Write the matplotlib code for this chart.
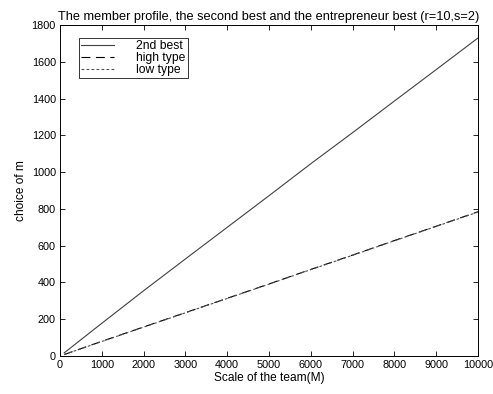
import numpy as np
import matplotlib
matplotlib.use('Agg')
import matplotlib.pyplot as plt

plt.rcParams['font.family'] = ['Liberation Sans', 'DejaVu Sans']

# team scale M and the chosen m for each profile
scale = [100, 1000, 2000, 3000, 4000, 5000, 6000, 7000, 8000, 9000, 10000]
second_best = [17, 178, 355, 528, 700, 872, 1046, 1215, 1387, 1558, 1730]
high_type = [8, 80, 158, 236, 314, 392, 471, 549, 628, 706, 785]
low_type = [8, 79, 157, 235, 313, 391, 470, 548, 627, 705, 783]

fig = plt.figure(figsize=(4.93, 3.94), dpi=100)
fig.patch.set_facecolor('white')
ax = fig.add_axes([0.1217, 0.0964, 0.848, 0.840])

ax.plot(scale, second_best, color='#404040', lw=0.8, ls='-', label='2nd best')
ax.plot(scale, high_type, color='black', lw=0.8, ls=(0, (8, 5)), label='high type')
ax.plot(scale, low_type, color='#505050', lw=0.8, ls=(0, (2.5, 2)), label='low type')

ax.set_xlim(0, 10000)
ax.set_ylim(0, 1800)
ax.set_xticks(np.arange(0, 10001, 1000))
ax.set_yticks(np.arange(0, 1801, 200))
ax.tick_params(direction='in', top=True, right=True, length=3.5, width=0.6, labelsize=7.8, pad=3)
for s in ax.spines.values():
    s.set_linewidth(0.7)

ax.set_xlabel('Scale of the team(M)', fontsize=8.6, labelpad=1)
ax.set_ylabel('choice of m', fontsize=8.6, labelpad=3)
ax.set_title('The member profile, the second best and the entrepreneur best (r=10,s=2)',
             fontsize=9.2, pad=4)

leg = ax.legend(loc='upper left', bbox_to_anchor=(0.045, 0.962), fontsize=8.7, frameon=True,
                fancybox=False, edgecolor='black', handlelength=2.75, borderpad=0.2,
                labelspacing=0.0, handletextpad=1.8, borderaxespad=0)
leg.get_frame().set_linewidth(0.7)

fig.savefig('out.png', dpi=100, facecolor='white')
